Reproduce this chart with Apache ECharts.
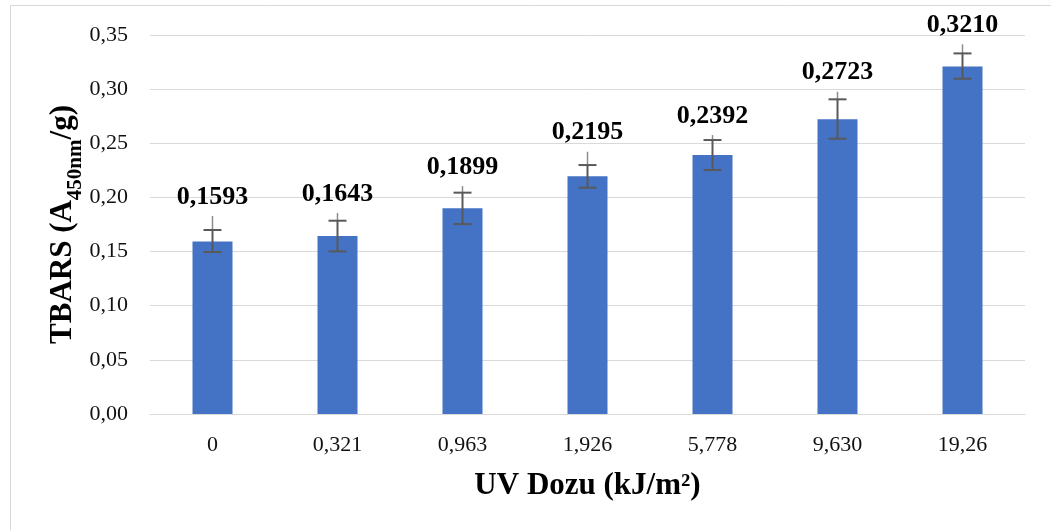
<!DOCTYPE html>
<html>
<head>
<meta charset="utf-8">
<script src="https://cdn.jsdelivr.net/npm/echarts@6/dist/echarts.min.js"></script>
<style>
  html, body { margin: 0; padding: 0; background: #fff; }
  #chart { width: 1051px; height: 530px; }
</style>
</head>
<body>
<div id="chart"></div>
<script>
// UV doses (kJ/m2)
var doses = ['0', '0,321', '0,963', '1,926', '5,778', '9,630', '19,26'];
// TBARS means
var tbars = [0.1593, 0.1643, 0.1899, 0.2195, 0.2392, 0.2723, 0.3210];
// error bar ends
var errLow = [0.1496, 0.1502, 0.1754, 0.2090, 0.2253, 0.2542, 0.3096];
var errHigh = [0.1699, 0.1785, 0.2044, 0.2299, 0.2530, 0.2906, 0.3330];
// lighter upper whisker
var errTop = [0.1828, 0.1856, 0.2105, 0.2422, 0.2576, 0.2976, 0.3414];
var yTicks = [0, 0.05, 0.10, 0.15, 0.20, 0.25, 0.30, 0.35];

var font = '"Liberation Serif", "Times New Roman", serif';

function fmt(v, d) {
  return v.toFixed(d).replace('.', ',');
}

var errData = [];
for (var i = 0; i < doses.length; i++) {
  errData.push([i, errLow[i], errHigh[i], errTop[i], tbars[i]]);
}

var chart = echarts.init(document.getElementById('chart'));

var option = {
  animation: false,
  textStyle: { fontFamily: font },
  grid: { left: 150, right: 26, top: 35, bottom: 116 },
  graphic: [{
    type: 'rect',
    shape: { x: 10.5, y: 5.5, width: 1060, height: 540 },
    style: { fill: 'none', stroke: '#d9d9d9', lineWidth: 1 },
    silent: true
  }],
  xAxis: {
    type: 'category',
    data: doses,
    axisTick: { show: false },
    axisLine: { lineStyle: { color: '#d9d9d9', width: 1 } },
    axisLabel: { color: '#111', fontSize: 22, fontFamily: font, margin: 20 },
    name: 'UV Dozu (kJ/m²)',
    nameLocation: 'middle',
    nameGap: 56,
    nameMoveOverlap: false,
    nameTextStyle: { color: '#000', fontSize: 31, fontWeight: 'bold', fontFamily: font }
  },
  yAxis: {
    type: 'value',
    min: 0,
    max: 0.35,
    interval: 0.05,
    axisLine: { show: false },
    axisTick: { show: false },
    splitLine: { lineStyle: { color: '#d9d9d9', width: 1 } },
    axisLabel: {
      color: '#111', fontSize: 22, fontFamily: font, margin: 22,
      formatter: function (v) { return fmt(v, 2); }
    },
    name: '{b|TBARS (A}{s|450nm}{b|/g)}',
    nameLocation: 'middle',
    nameGap: 72,
    nameMoveOverlap: false,
    nameTextStyle: {
      rich: {
        b: { fontSize: 31, fontWeight: 'bold', fontFamily: font, color: '#000', verticalAlign: 'bottom' },
        s: { fontSize: 21, fontWeight: 'bold', fontFamily: font, color: '#000', verticalAlign: 'bottom', padding: [0, 0, -8, 0] }
      }
    }
  },
  series: [
    {
      type: 'bar',
      data: tbars,
      barWidth: '32%',
      itemStyle: { color: '#4472c4' }
    },
    {
      type: 'custom',
      data: errData,
      z: 10,
      renderItem: function (params, api) {
        var x = api.coord([api.value(0), 0])[0];
        var lo = api.coord([api.value(0), api.value(1)])[1];
        var hi = api.coord([api.value(0), api.value(2)])[1];
        var top = api.coord([api.value(0), api.value(3)])[1];
        var cw = 9;
        var dark = { stroke: '#595959', lineWidth: 2 };
        var light = { stroke: '#8c8c8c', lineWidth: 1.5 };
        return {
          type: 'group',
          children: [
            { type: 'line', shape: { x1: x, y1: top, x2: x, y2: hi }, style: light },
            { type: 'line', shape: { x1: x, y1: hi, x2: x, y2: lo }, style: dark },
            { type: 'line', shape: { x1: x - cw, y1: hi, x2: x + cw, y2: hi }, style: dark },
            { type: 'line', shape: { x1: x - cw, y1: lo, x2: x + cw, y2: lo }, style: dark },
            {
              type: 'text',
              x: x,
              y: top - 19,
              style: {
                text: fmt(api.value(4), 4),
                fontFamily: font,
                fontSize: 26,
                fontWeight: 'bold',
                fill: '#000',
                align: 'center',
                verticalAlign: 'middle'
              }
            }
          ]
        };
      }
    }
  ]
};

chart.setOption(option);
</script>
</body>
</html>
